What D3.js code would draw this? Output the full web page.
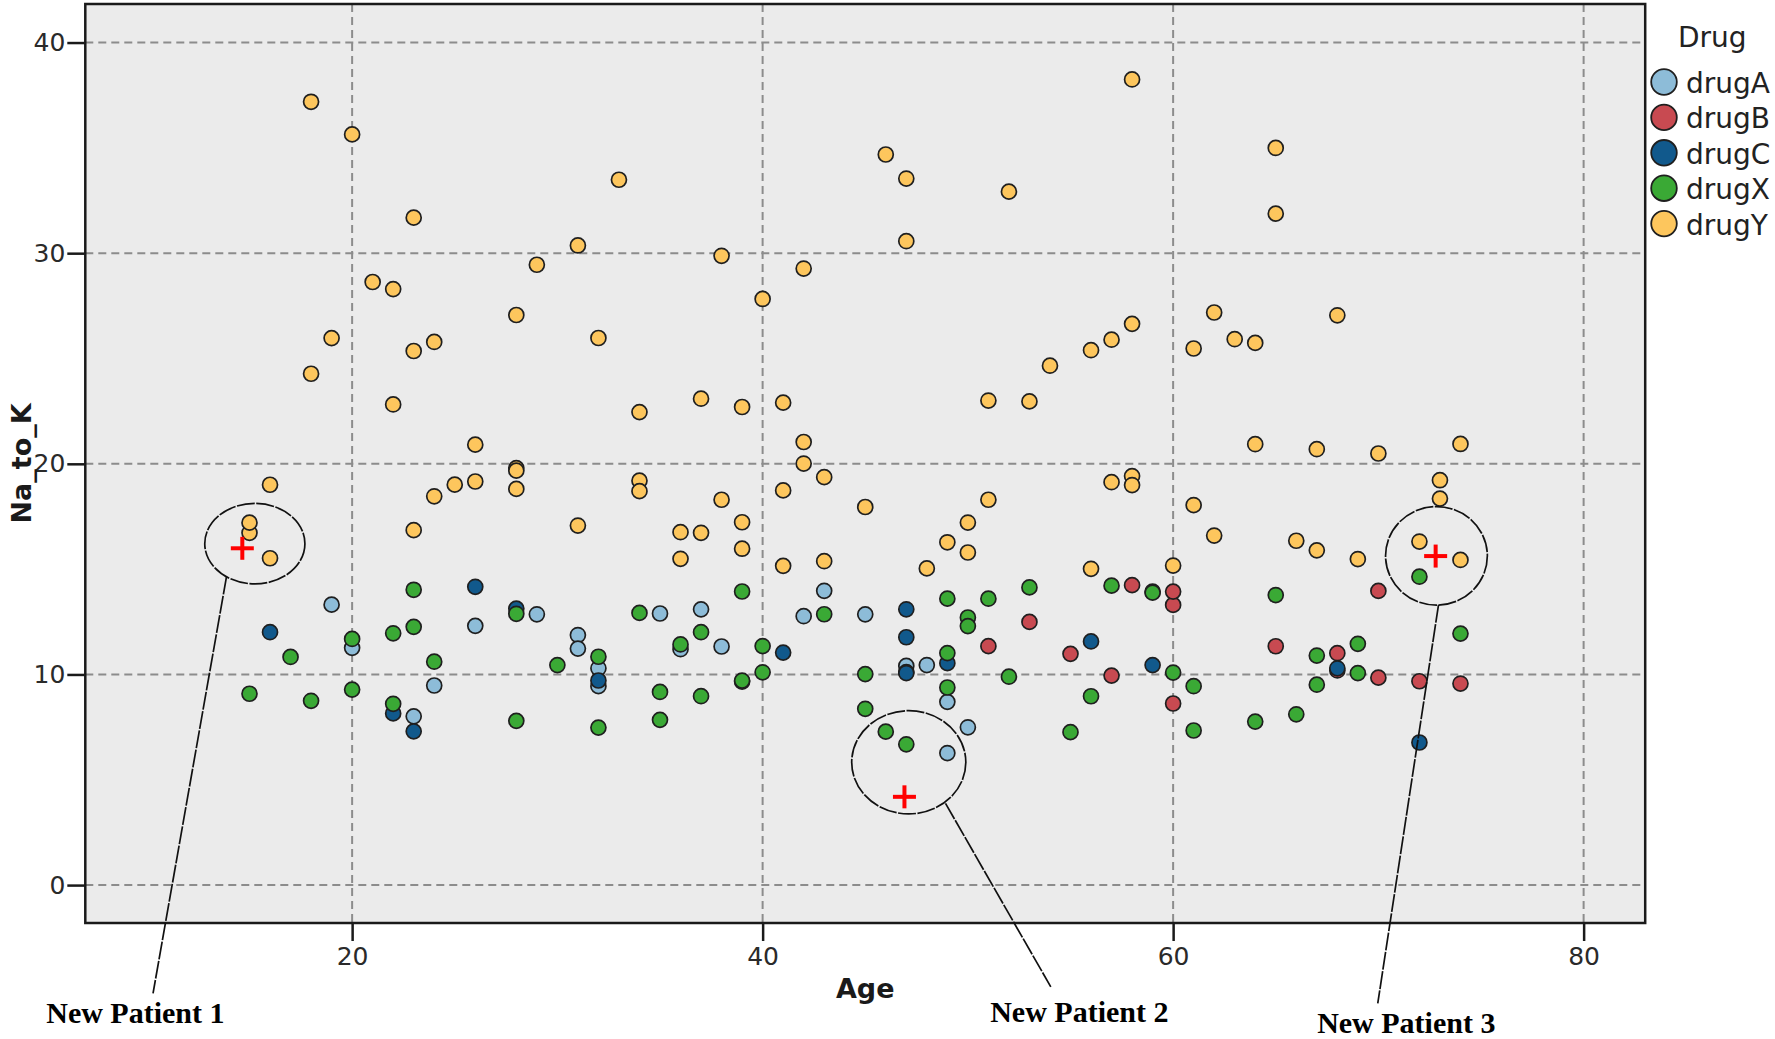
<!DOCTYPE html>
<html>
<head>
<meta charset="utf-8">
<script src="https://cdn.jsdelivr.net/npm/d3@7/dist/d3.min.js"></script>
<style>
  html, body { margin: 0; padding: 0; background: #ffffff; }
  svg { display: block; }
</style>
</head>
<body>
<svg id="chart" width="1775" height="1039"></svg>
<script>
// ---------------- DATA ----------------
const drugNames = ["drugA", "drugB", "drugC", "drugX", "drugY"];

const drugAAge = [43, 32, 37, 24, 29, 36, 19, 38, 31, 45, 50, 32, 35, 49, 39, 26, 49, 31, 20, 42, 48, 47, 23];
const drugANa  = [13.972, 9.445, 13.091, 9.475, 12.856, 11.198, 13.313, 11.326, 11.871, 12.854, 7.49, 10.292,
                  12.894, 6.269, 9.664, 12.307, 8.7, 11.227, 11.262, 12.766, 10.446, 10.403, 8.011];

const drugBAge = [74, 58, 68, 65, 60, 70, 60, 59, 72, 53, 55, 51, 60, 68, 57, 70];
const drugBNa  = [9.567, 14.239, 10.189, 11.34, 13.303, 13.967, 13.934, 13.935, 9.677, 12.495, 10.977, 11.343,
                  8.621, 11.009, 9.945, 9.849];

const drugCAge = [47, 47, 41, 47, 23, 68, 26, 32, 47, 28, 22, 49, 59, 72, 56, 16];
const drugCNa  = [13.093, 10.114, 11.037, 11.767, 7.298, 10.291, 14.16, 9.712, 10.067, 13.127, 8.151, 10.537,
                  10.444, 6.769, 11.567, 12.006];

const drugXAge = [28, 22, 50, 69, 49, 18, 49, 53, 46, 39, 39, 15, 23, 50, 66, 67, 60, 45, 17, 24, 32, 64, 51, 36,
                  56, 37, 22, 47, 35, 65, 20, 67, 40, 35, 32, 49, 74, 69, 61, 37, 61, 55, 72, 34, 30, 43, 57, 28,
                  45, 59, 20, 52, 23, 40];
const drugXNa  = [7.798, 8.607, 12.703, 11.455, 9.381, 8.75, 11.014, 14.133, 7.285, 13.938, 9.709, 9.084, 12.26,
                  12.295, 8.107, 10.898, 10.091, 8.37, 10.832, 10.605, 10.84, 7.761, 13.597, 11.424, 8.966, 8.968,
                  11.953, 6.683, 9.17, 13.769, 9.281, 9.514, 10.103, 7.845, 7.477, 13.598, 11.939, 10.065, 9.443,
                  12.006, 7.34, 7.261, 14.642, 12.923, 10.443, 12.859, 14.216, 12.879, 10.017, 13.884, 11.686,
                  9.894, 14.02, 11.349];

const drugYAge = [23, 61, 49, 60, 43, 34, 43, 74, 16, 32, 57, 63, 47, 48, 33, 28, 31, 39, 45, 65, 73, 50, 23, 28,
                  58, 62, 24, 40, 34, 38, 67, 68, 54, 18, 28, 41, 31, 26, 26, 69, 37, 50, 62, 41, 29, 42, 56, 58,
                  56, 20, 15, 22, 42, 23, 51, 61, 28, 15, 34, 36, 19, 66, 47, 70, 52, 24, 42, 64, 74, 37, 53, 21,
                  16, 38, 58, 51, 39, 41, 73, 25, 39, 67, 22, 36, 18, 57, 65, 64, 58, 72, 46];
const drugYNa  = [25.355, 18.043, 16.275, 15.171, 19.368, 19.199, 15.376, 20.942, 15.516, 25.974, 19.128, 25.917,
                  30.568, 15.036, 33.486, 18.809, 30.366, 22.697, 17.951, 31.876, 19.221, 15.79, 31.686, 19.796,
                  19.416, 27.183, 18.457, 27.826, 18.703, 29.875, 20.693, 27.05, 24.658, 24.276, 19.675, 22.905,
                  17.069, 20.909, 19.161, 15.478, 23.091, 17.211, 16.594, 15.156, 29.45, 29.271, 15.015, 38.247,
                  25.395, 35.639, 16.725, 28.294, 20.013, 16.85, 18.295, 25.475, 27.064, 17.206, 22.456, 16.753,
                  25.969, 16.347, 33.542, 20.489, 32.922, 25.786, 21.036, 25.741, 15.436, 16.724, 22.963, 28.632,
                  19.007, 18.295, 26.645, 23.003, 17.225, 18.739, 18.348, 19.011, 15.969, 15.891, 22.818, 15.49,
                  37.188, 25.893, 34.997, 20.932, 18.991, 16.31, 34.686];

const xTicks = [20, 40, 60, 80];
const yTicks = [0, 10, 20, 30, 40];

// new patients (red crosses)
const patientLabels = ["New Patient 1", "New Patient 2", "New Patient 3"];
const patientAge = [14.65, 46.91, 72.79];
const patientNa  = [15.99, 4.19, 15.62];

// ---------------- LAYOUT / STYLE ----------------
const plot = { left: 85.3, right: 1645.2, top: 4, bottom: 923 };
const xDomain = [7, 83];
const yDomain = [-1.8, 41.83];

const colors = {
  drugA: "#8dbcd8",
  drugB: "#c84a51",
  drugC: "#11598c",
  drugX: "#3aa935",
  drugY: "#fdc65d"
};

// annotation geometry (in data units)
const ann = [
  { ex: 15.26, ey: 16.21, erx: 2.44, ery: 1.91, l1: [13.88, 14.64], l2: [10.30, -5.14], t: [9.44, -6.55] },
  { ex: 47.12, ey: 5.83,  erx: 2.78, ery: 2.45, l1: [48.91, 3.88],  l2: [54.04, -4.83], t: [55.43, -6.49] },
  { ex: 72.83, ey: 15.63, erx: 2.48, ery: 2.34, l1: [72.93, 13.30], l2: [69.97, -5.62], t: [71.36, -7.01] }
];

const svg = d3.select("#chart");

const x = d3.scaleLinear().domain(xDomain).range([plot.left, plot.right]);
const y = d3.scaleLinear().domain(yDomain).range([plot.bottom, plot.top]);

// plot background
svg.append("rect")
  .attr("x", plot.left).attr("y", plot.top)
  .attr("width", plot.right - plot.left).attr("height", plot.bottom - plot.top)
  .attr("fill", "#ebebeb");

// gridlines
const grid = svg.append("g").attr("class", "grid");
grid.selectAll("line.h").data(yTicks).enter().append("line")
  .attr("x1", plot.left).attr("x2", plot.right)
  .attr("y1", d => y(d)).attr("y2", d => y(d))
  .attr("stroke", "#8c8c8c").attr("stroke-width", 2).attr("stroke-dasharray", "8,5");
grid.selectAll("line.v").data(xTicks).enter().append("line")
  .attr("y1", plot.top).attr("y2", plot.bottom)
  .attr("x1", d => x(d)).attr("x2", d => x(d))
  .attr("stroke", "#8c8c8c").attr("stroke-width", 2).attr("stroke-dasharray", "8,5");

// points (drawn drug by drug)
const series = [
  { name: "drugA", age: drugAAge, na: drugANa },
  { name: "drugB", age: drugBAge, na: drugBNa },
  { name: "drugC", age: drugCAge, na: drugCNa },
  { name: "drugX", age: drugXAge, na: drugXNa },
  { name: "drugY", age: drugYAge, na: drugYNa }
];
const pts = svg.append("g").attr("class", "points");
series.forEach(s => {
  const rows = s.age.map((a, i) => ({ age: a, na: s.na[i] }));
  pts.append("g").selectAll("circle").data(rows).enter().append("circle")
    .attr("cx", d => x(d.age))
    .attr("cy", d => y(d.na))
    .attr("r", 7.5)
    .attr("fill", colors[s.name])
    .attr("stroke", "#1f1f1f")
    .attr("stroke-width", 1.7);
});

// plot frame
svg.append("rect")
  .attr("x", plot.left).attr("y", plot.top)
  .attr("width", plot.right - plot.left).attr("height", plot.bottom - plot.top)
  .attr("fill", "none").attr("stroke", "#1a1a1a").attr("stroke-width", 2.5);

// axes
const yAxis = d3.axisLeft(y).tickValues(yTicks).tickSize(18).tickPadding(2).tickFormat(d3.format("d"));
const xAxis = d3.axisBottom(x).tickValues(xTicks).tickSize(18).tickPadding(6).tickFormat(d3.format("d"));

const gy = svg.append("g").attr("transform", `translate(${plot.left},0)`).call(yAxis);
const gx = svg.append("g").attr("transform", `translate(0,${plot.bottom})`).call(xAxis);
[gx, gy].forEach(g => {
  g.select(".domain").remove();
  g.selectAll(".tick line").attr("stroke", "#1a1a1a").attr("stroke-width", 2.5);
  g.selectAll(".tick text")
    .attr("font-family", "'DejaVu Sans', sans-serif")
    .attr("font-size", 25)
    .attr("fill", "#2a2a2a");
});

// axis titles
svg.append("text")
  .attr("x", (plot.left + plot.right) / 2).attr("y", 998)
  .attr("text-anchor", "middle")
  .attr("font-family", "'DejaVu Sans', sans-serif").attr("font-weight", "bold")
  .attr("font-size", 27).attr("fill", "#1a1a1a")
  .text("Age");
svg.append("text")
  .attr("transform", `translate(30.6,${(plot.top + plot.bottom) / 2}) rotate(-90)`)
  .attr("text-anchor", "middle")
  .attr("font-family", "'DejaVu Sans', sans-serif").attr("font-weight", "bold")
  .attr("font-size", 27).attr("fill", "#1a1a1a")
  .text("Na_to_K");

// legend
const leg = svg.append("g").attr("class", "legend");
leg.append("text")
  .attr("x", 1678).attr("y", 47)
  .attr("font-family", "'DejaVu Sans', sans-serif").attr("font-size", 28).attr("fill", "#222")
  .text("Drug");
drugNames.forEach((n, i) => {
  const cy = 82 + i * 35.4;
  leg.append("circle").attr("cx", 1664).attr("cy", cy).attr("r", 12.8)
    .attr("fill", colors[n]).attr("stroke", "#1f1f1f").attr("stroke-width", 1.8);
  leg.append("text").attr("x", 1686).attr("y", cy + 11)
    .attr("font-family", "'DejaVu Sans', sans-serif").attr("font-size", 28).attr("fill", "#222")
    .text(n);
});

// annotations
const an = svg.append("g").attr("class", "annotations");
ann.forEach((a, i) => {
  an.append("ellipse")
    .attr("cx", x(a.ex)).attr("cy", y(a.ey))
    .attr("rx", x(a.ex + a.erx) - x(a.ex))
    .attr("ry", y(a.ey) - y(a.ey + a.ery))
    .attr("fill", "none").attr("stroke", "#111").attr("stroke-width", 1.7)
    .attr("stroke-dasharray", "18,1.5");
  an.append("line")
    .attr("x1", x(a.l1[0])).attr("y1", y(a.l1[1]))
    .attr("x2", x(a.l2[0])).attr("y2", y(a.l2[1]))
    .attr("stroke", "#111").attr("stroke-width", 1.7)
    .attr("stroke-dasharray", "18,1.5");
  an.append("text")
    .attr("x", x(a.t[0])).attr("y", y(a.t[1]))
    .attr("text-anchor", "middle")
    .attr("font-family", "'Liberation Serif', 'Times New Roman', serif")
    .attr("font-weight", "bold").attr("font-size", 30).attr("fill", "#000")
    .text(patientLabels[i]);
});

// red crosses for new patients
const arm = 11.5;
const crosses = svg.append("g").attr("class", "crosses");
patientAge.forEach((a, i) => {
  const cx = x(a), cy = y(patientNa[i]);
  crosses.append("line").attr("x1", cx - arm).attr("x2", cx + arm).attr("y1", cy).attr("y2", cy)
    .attr("stroke", "#ff0000").attr("stroke-width", 4);
  crosses.append("line").attr("x1", cx).attr("x2", cx).attr("y1", cy - arm).attr("y2", cy + arm)
    .attr("stroke", "#ff0000").attr("stroke-width", 4);
});
</script>
</body>
</html>
